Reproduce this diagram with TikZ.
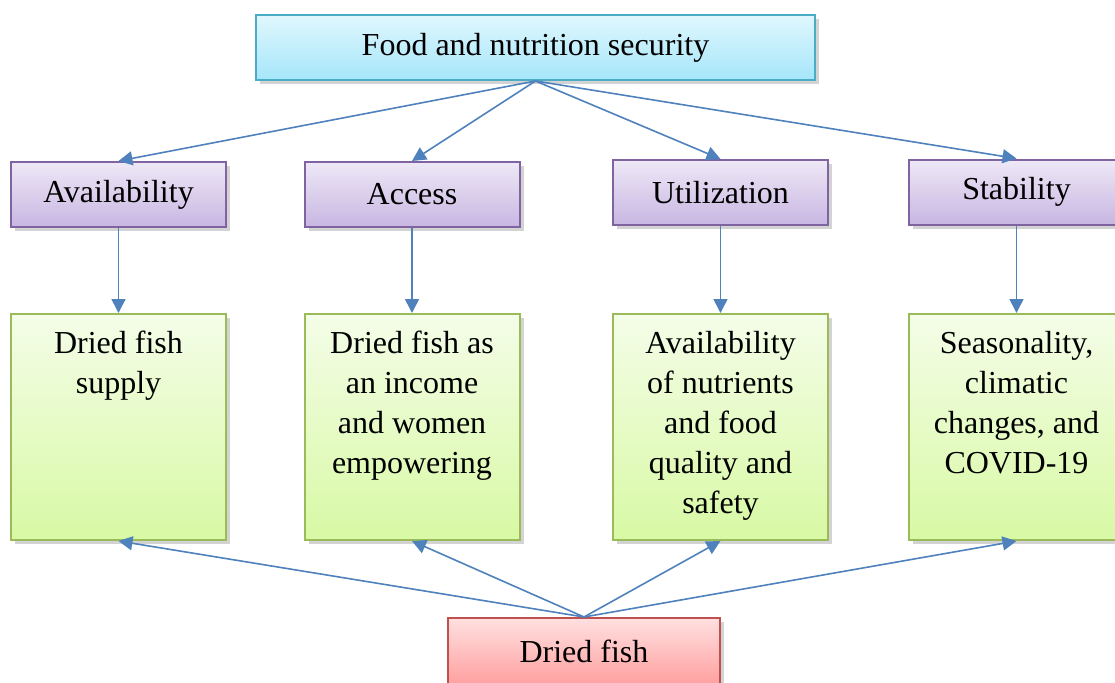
\documentclass[tikz,border=0pt]{standalone}
\usepackage{fontspec}
\setmainfont{Liberation Serif}
\usetikzlibrary{arrows.meta, shadows}
\definecolor{arr}{HTML}{4F81BD}
\definecolor{cyanline}{HTML}{4BACC6}
\definecolor{violine}{HTML}{8064A2}
\definecolor{greenline}{HTML}{9BBB59}
\definecolor{redline}{HTML}{C0504D}
\definecolor{cyanhaut}{HTML}{E0F7FD}
\definecolor{cyanbas}{HTML}{A5E6FA}
\definecolor{viohaut}{HTML}{EEE8F6}
\definecolor{viobas}{HTML}{C8B6E2}
\definecolor{verthaut}{HTML}{F4FDE8}
\definecolor{vertbas}{HTML}{D8F9A4}
\definecolor{rougehaut}{HTML}{FFE0E0}
\definecolor{rougebas}{HTML}{FFA0A0}
\tikzset{
	every node/.style={font=\fontsize{16}{20}\selectfont},
	boite/.style={draw, line width=1pt, minimum width=107.5pt, inner sep=0pt,
		drop shadow={opacity=0.35, shadow xshift=2pt, shadow yshift=-2pt}},
	bleu/.style={boite, draw=cyanline, top color=cyanhaut, bottom color=cyanbas, minimum width=279.5pt, minimum height=32.5pt},
	violet/.style={boite, draw=violine, top color=viohaut, bottom color=viobas, minimum height=32.5pt},
	vert/.style={boite, draw=greenline, top color=verthaut, bottom color=vertbas, minimum height=113pt},
	rouge/.style={boite, draw=redline, top color=rougehaut, bottom color=rougebas, minimum width=136pt, minimum height=33pt},
	texte/.style={anchor=north, align=center, inner sep=0pt},
	fleche/.style={arr, line width=0.8pt, -{Triangle[length=7pt, width=7pt]}}
}
\begin{document}
\begin{tikzpicture}[x=0.5pt, y=0.5pt]
	\useasboundingbox (0,0) rectangle (1115,682);
	\clip (0,0) rectangle (1115,682);
	
	% haut
	\node[bleu] (fns) at (535.5,634.5) {Food and nutrition security};
	
	% dimensions
	\node[violet] (avail) at (118.5,487.5) {Availability};
	\node[violet] (access) at (412,487.5) {Access};
	\node[violet] (util) at (720.5,489.5) {Utilization};
	\node[violet] (stab) at (1016.5,490) {Stability};
	
	% boites vertes
	\node[vert] (supply) at (118.5,255) {};
	\node[vert] (income) at (412,255) {};
	\node[vert] (nutri) at (720.5,255) {};
	\node[vert] (season) at (1016.5,255) {};
	
	\node[texte] (t1) at ([yshift=-9pt]supply.north) {Dried fish\\supply};
	\node[texte] (t2) at ([yshift=-9pt]income.north) {Dried fish as\\an income\\and women\\empowering};
	\node[texte] (t3) at ([yshift=-9pt]nutri.north) {Availability\\of nutrients\\and food\\quality and\\safety};
	\node[texte] (t4) at ([yshift=-9pt]season.north) {Seasonality,\\climatic\\changes, and\\COVID-19};
	
	% bas
	\node[rouge] (fish) at (584,31) {Dried fish};
	
	% fleches
	\foreach \n in {avail, access, util, stab}{
		\draw[fleche] (fns.south) -- (\n.north);
	}
	\draw[fleche] (avail.south) -- (supply.north);
	\draw[fleche] (access.south) -- (income.north);
	\draw[fleche] (util.south) -- (nutri.north);
	\draw[fleche] (stab.south) -- (season.north);
	\foreach \n in {supply, income, nutri, season}{
		\draw[fleche] (fish.north) -- (\n.south);
	}
\end{tikzpicture}
\end{document}
